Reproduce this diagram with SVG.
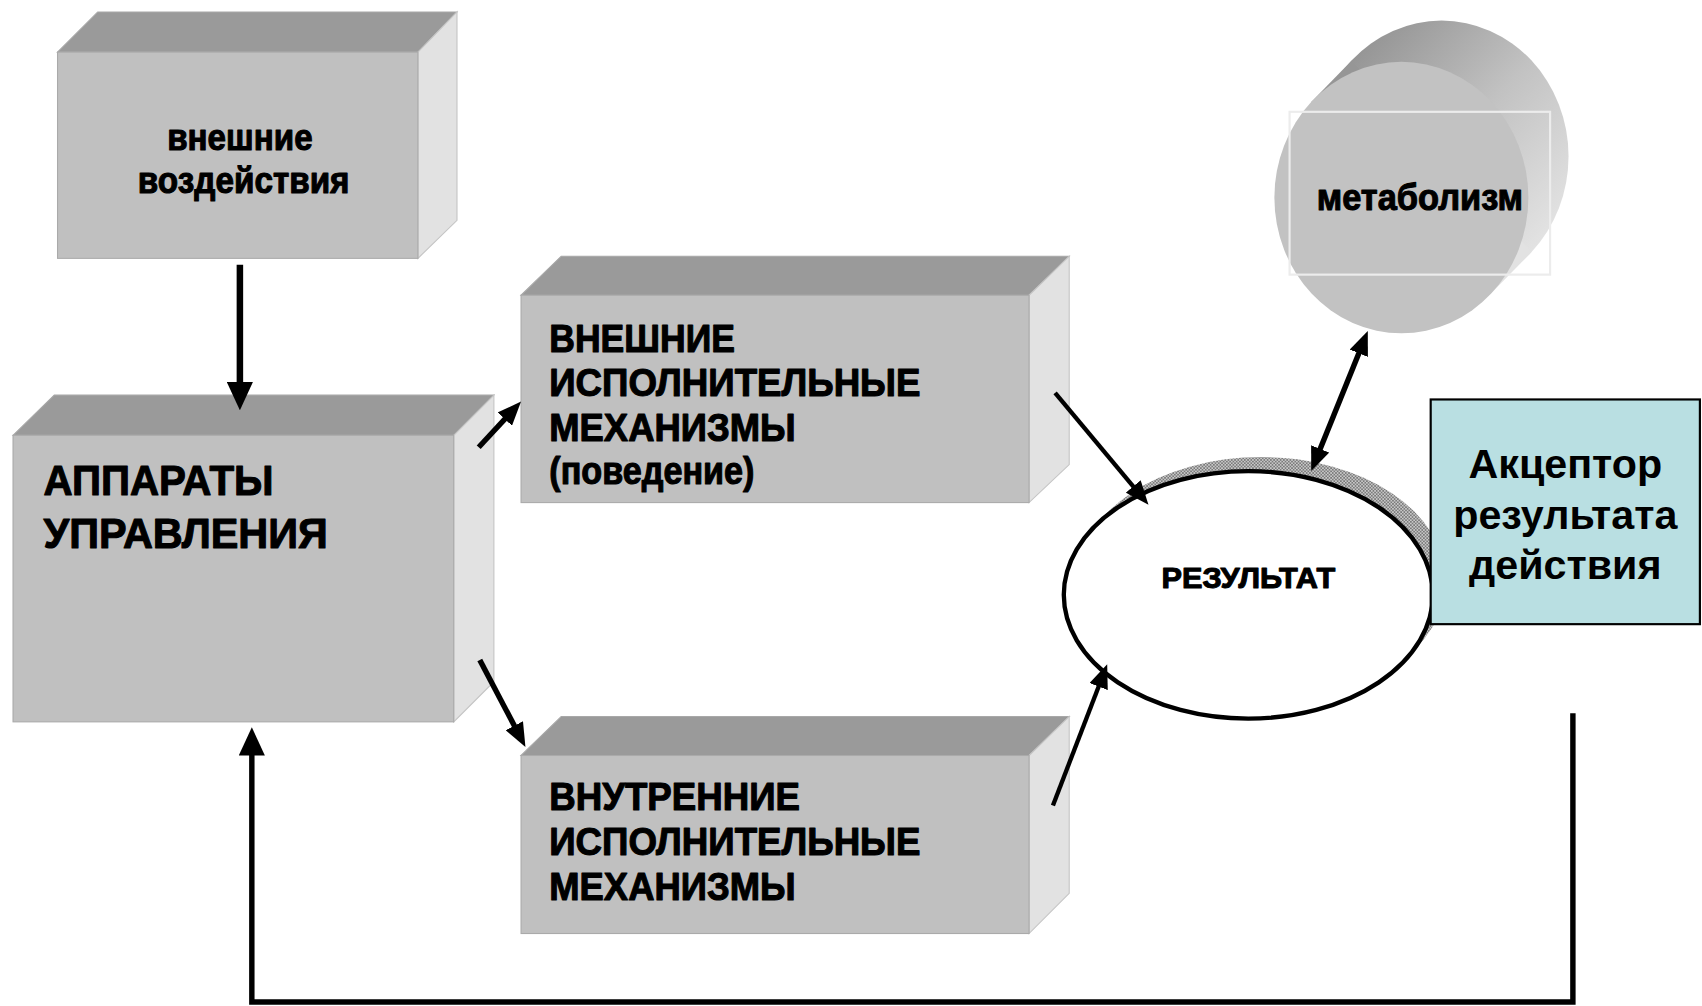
<svg xmlns="http://www.w3.org/2000/svg" width="1702" height="1006" viewBox="0 0 1702 1006">
<style>
.front{fill:#c0c0c0;stroke:#aaaaaa;stroke-width:1}
.top{fill:#9a9a9a;stroke:#a8a8a8;stroke-width:1}
.side{fill:#e2e2e2;stroke:#c4c4c4;stroke-width:1}
.t{font-family:"Liberation Sans",Arial,sans-serif;font-weight:bold;fill:#000}
.h{stroke:#000;stroke-width:1;stroke-linejoin:round}
.c{fill:none;stroke:#000;stroke-linecap:butt;stroke-linejoin:miter}
</style>
<defs>
<marker id="big" viewBox="0 0 26 24" markerWidth="26" markerHeight="24" refX="16" refY="12" orient="auto" markerUnits="userSpaceOnUse">
<path d="M0,0 L26,12 L0,24 Z" fill="#000"/>
</marker>
<marker id="sm" viewBox="0 0 22 18" markerWidth="22" markerHeight="18" refX="12" refY="9" orient="auto-start-reverse" markerUnits="userSpaceOnUse">
<path d="M0,0 L22,9 L0,18 Z" fill="#000"/>
</marker>
<linearGradient id="cyl" x1="0.3" y1="0" x2="1" y2="0.7">
<stop offset="0" stop-color="#969696"/>
<stop offset="0.5" stop-color="#c2c2c2"/>
<stop offset="1" stop-color="#e2e2e2"/>
</linearGradient>
<pattern id="dots" width="3" height="3" patternUnits="userSpaceOnUse">
<rect width="3" height="3" fill="#c8c8c8"/>
<rect width="1.5" height="1.5" fill="#7a7a7a"/>
<rect x="1.5" y="1.5" width="1.5" height="1.5" fill="#7a7a7a"/>
</pattern>
</defs>
<rect width="1702" height="1006" fill="#fff"/>
<g transform="scale(1.0855)">
<g id="node-vneshnie-vozdeistviya">
<polygon class="top" points="53,48 90,11 421,11 385,48"/>
<polygon class="side" points="385,48 421,11 421,203 385,238"/>
<rect class="front" x="53" y="48" width="332" height="190"/>
<text class="t h" x="154" y="138" font-size="34" textLength="134" lengthAdjust="spacingAndGlyphs">внешние</text>
<text class="t h" x="127" y="178" font-size="34" textLength="195" lengthAdjust="spacingAndGlyphs">воздействия</text>
</g>
<g id="node-apparaty">
<polygon class="top" points="12,401 50,364 455,364 418,401"/>
<polygon class="side" points="418,401 455,364 455,628 418,665"/>
<rect class="front" x="12" y="401" width="406" height="264"/>
<text class="t h" x="40" y="456" font-size="40" textLength="212" lengthAdjust="spacingAndGlyphs">АППАРАТЫ</text>
<text class="t h" x="40" y="505" font-size="40" textLength="262" lengthAdjust="spacingAndGlyphs">УПРАВЛЕНИЯ</text>
</g>
<g id="node-vneshnie-mehanizmy">
<polygon class="top" points="480,272 517,236 985,236 948,272"/>
<polygon class="side" points="948,272 985,236 985,428 948,463"/>
<rect class="front" x="480" y="272" width="468" height="191"/>
<text class="t h" x="506" y="324" font-size="35" textLength="171" lengthAdjust="spacingAndGlyphs">ВНЕШНИЕ</text>
<text class="t h" x="506" y="365" font-size="35" textLength="342" lengthAdjust="spacingAndGlyphs">ИСПОЛНИТЕЛЬНЫЕ</text>
<text class="t h" x="506" y="406" font-size="35" textLength="227" lengthAdjust="spacingAndGlyphs">МЕХАНИЗМЫ</text>
<text class="t h" x="506" y="446" font-size="35" textLength="189" lengthAdjust="spacingAndGlyphs">(поведение)</text>
</g>
<g id="node-vnutrennie-mehanizmy">
<polygon class="top" points="480,696 517,660 985,660 948,696"/>
<polygon class="side" points="948,696 985,660 985,823 948,860"/>
<rect class="front" x="480" y="696" width="468" height="164"/>
<text class="t h" x="506" y="746" font-size="35" textLength="231" lengthAdjust="spacingAndGlyphs">ВНУТРЕННИЕ</text>
<text class="t h" x="506" y="788" font-size="35" textLength="342" lengthAdjust="spacingAndGlyphs">ИСПОЛНИТЕЛЬНЫЕ</text>
<text class="t h" x="506" y="829" font-size="35" textLength="227" lengthAdjust="spacingAndGlyphs">МЕХАНИЗМЫ</text>
</g>
<g id="node-metabolizm">
<ellipse cx="1328" cy="144" rx="117" ry="125" fill="url(#cyl)"/>
<polygon points="1208,94 1245,56 1411,232 1374,270" fill="url(#cyl)"/>
<ellipse cx="1291" cy="182" rx="117" ry="125" fill="#c2c2c2"/>
<rect x="1188" y="103" width="240" height="150" fill="none" stroke="#ececec" stroke-width="2"/>
<text class="t h" x="1213" y="193" font-size="34" textLength="190" lengthAdjust="spacingAndGlyphs">метаболизм</text>
</g>
<g id="node-rezultat">
<ellipse cx="1162" cy="535" rx="170" ry="114" fill="url(#dots)"/>
<ellipse cx="1150" cy="548" rx="170" ry="114" fill="#fff" stroke="#000" stroke-width="4"/>
<text class="t h" x="1070" y="542" font-size="28" textLength="160" lengthAdjust="spacingAndGlyphs">РЕЗУЛЬТАТ</text>
</g>
<g id="node-akceptor">
<rect x="1318" y="368" width="248" height="207" fill="#b9dfe2" stroke="#000" stroke-width="2"/>
<text class="t" x="1442" y="440" font-size="38" text-anchor="middle">Акцептор</text>
<text class="t" x="1442" y="487" font-size="38" text-anchor="middle">результата</text>
<text class="t" x="1442" y="533" font-size="38" text-anchor="middle">действия</text>
</g>
<g id="connectors">
<line class="c" x1="221" y1="244" x2="221" y2="368" stroke-width="6" marker-end="url(#big)"/>
<line class="c" x1="441" y1="412" x2="473.2" y2="377.3" stroke-width="5" marker-end="url(#sm)"/>
<line class="c" x1="442" y1="608" x2="479.4" y2="679.2" stroke-width="5" marker-end="url(#sm)"/>
<line class="c" x1="972" y1="362" x2="1051.6" y2="457.3" stroke-width="4" marker-end="url(#sm)"/>
<line class="c" x1="970" y1="742" x2="1016.4" y2="621.3" stroke-width="4" marker-end="url(#sm)"/>
<line class="c" x1="1211.7" y1="424.7" x2="1256.3" y2="314.3" stroke-width="5" marker-start="url(#sm)" marker-end="url(#sm)"/>
<path class="c" d="M1449,657 V923 H232 V680" stroke-width="5" marker-end="url(#big)"/>
</g>
</g>
</svg>
